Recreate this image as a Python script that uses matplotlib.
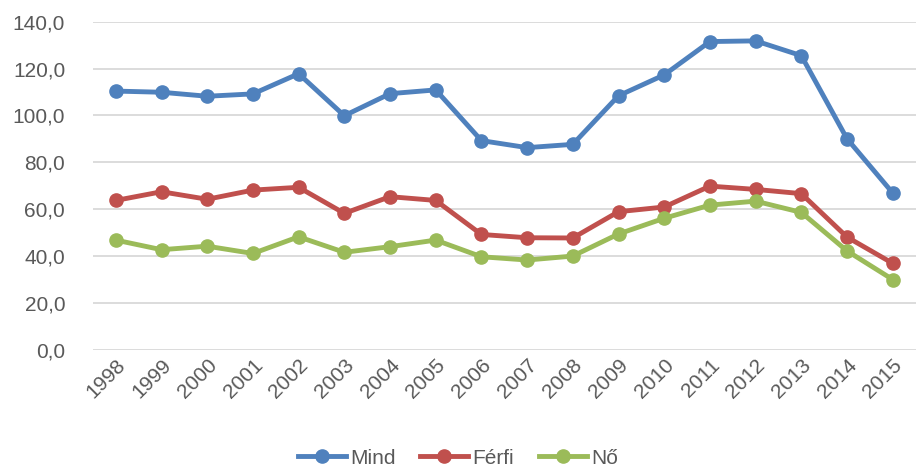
import matplotlib
matplotlib.use('Agg')
import matplotlib.pyplot as plt
from matplotlib.ticker import FuncFormatter

# data
years = ['1998', '1999', '2000', '2001', '2002', '2003', '2004', '2005', '2006',
         '2007', '2008', '2009', '2010', '2011', '2012', '2013', '2014', '2015']
mind = [110.4, 109.9, 108.2, 109.2, 117.8, 99.9, 109.3, 110.9, 89.3,
        86.3, 87.7, 108.4, 117.3, 131.5, 131.8, 125.5, 90.1, 67.0]
ferfi = [63.8, 67.5, 64.3, 68.2, 69.4, 58.3, 65.4, 63.8, 49.3,
         47.9, 47.8, 59.0, 61.0, 69.9, 68.5, 66.7, 48.2, 37.0]
no = [46.9, 42.8, 44.3, 41.2, 48.3, 41.7, 44.1, 46.9, 39.8,
      38.4, 40.1, 49.5, 56.2, 61.8, 63.5, 58.7, 42.3, 30.1]
series_names = ['Mind', 'Férfi', 'Nő']
colors = ['#4F81BD', '#C0504D', '#9BBB59']

plt.rcParams['font.family'] = ['Liberation Sans', 'DejaVu Sans']
txt = '#595959'

fig = plt.figure(figsize=(9.16, 4.70), dpi=100)
ax = fig.add_axes([0.1015, 0.255, 0.898, 0.699])

x = list(range(len(years)))
for vals, name, c in zip([mind, ferfi, no], series_names, colors):
    ax.plot(x, vals, color=c, lw=3.5, marker='o', ms=9.5, label=name,
            solid_joinstyle='round', zorder=3)

ax.set_ylim(0, 140)
ax.set_yticks(range(0, 141, 20))
ax.yaxis.set_major_formatter(FuncFormatter(lambda v, p: f'{v:.1f}'.replace('.', ',')))
ax.set_xlim(-0.5, len(years) - 0.5)
ax.set_xticks(x)
ax.set_xticklabels(years, rotation=45, ha='right', rotation_mode='anchor')

ax.grid(axis='y', color='#D9D9D9', lw=1.3)
ax.set_axisbelow(True)
for s in ax.spines.values():
    s.set_visible(False)
ax.tick_params(length=0, labelsize=15, colors=txt)
ax.tick_params(axis='y', pad=20)
ax.tick_params(axis='x', pad=4)

fig.legend(loc='center', bbox_to_anchor=(0.5, 0.025), ncol=3, frameon=False,
           fontsize=15, labelcolor=txt, handlelength=2.3, handletextpad=0.2,
           columnspacing=1.2)

fig.savefig('out.png', dpi=100)
